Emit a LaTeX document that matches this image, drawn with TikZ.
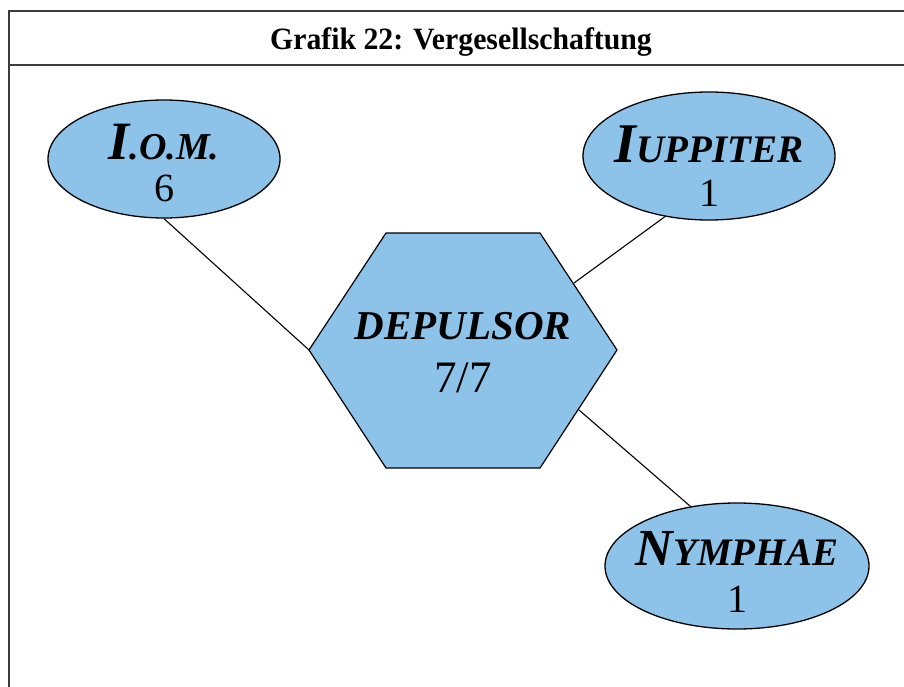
\documentclass[tikz,border=0pt]{standalone}
\usepackage{fontspec}
\setmainfont{Liberation Serif}
\newfontfamily\titlefont[FakeStretch=0.96]{Liberation Serif}
\usetikzlibrary{shapes.geometric}
\definecolor{nodeblue}{RGB}{141,195,233}
\definecolor{framegray}{RGB}{60,60,60}
\newcommand\fsz[1]{\fontsize{#1}{#1}\selectfont}
\tikzset{
  blob/.style={ellipse, draw=black, line width=1.3pt, fill=nodeblue, inner sep=0pt},
  hexfill/.style={draw=black, line width=1.2pt, fill=nodeblue},
  link/.style={draw=black, line width=1.1pt},
  frame/.style={draw=framegray, line width=1.6pt},
  lbl/.style={anchor=base, inner sep=0pt, font=\bfseries\itshape},
  num/.style={anchor=base, inner sep=0pt, font=\fsz{40}},
}
\begin{document}
\begin{tikzpicture}[x=1pt, y=-1pt]
\useasboundingbox (0,0) rectangle (904,687);
% frame
\draw[frame] (904,11) -- (9,11) -- (9,687);
\draw[frame] (9,65) -- (904,65);
\node[anchor=base, inner sep=0pt, font=\titlefont\bfseries\fsz{31}] (title) at (461,50) {Grafik 22: Vergesellschaftung};
% ellipses
\node[blob, minimum width=232pt, minimum height=118pt] (iom) at (164,159) {};
\node[blob, minimum width=252pt, minimum height=128pt] (iup) at (709,156) {};
\node[blob, minimum width=264pt, minimum height=126pt] (nym) at (737,566) {};
% hexagon
\coordinate (h1) at (309,350);
\coordinate (h2) at (386,233);
\coordinate (h3) at (540,233);
\coordinate (h4) at (617,350);
\coordinate (h5) at (540,468);
\coordinate (h6) at (386,468);
\draw[hexfill] (h1) -- (h2) -- (h3) -- (h4) -- (h5) -- (h6) -- cycle;
\coordinate (hur) at (574,283);
\coordinate (hlr) at (579,410);
% labels
\node[lbl] (iomname) at (164,160) {\fsz{54}I\fsz{38}.O.M.};
\node[num] (iomnum) at (164,201) {6};
\node[lbl] (iupname) at (709,163) {\fsz{56}I\fsz{39}UPPITER};
\node[num] (iupnum) at (709,207) {1};
\node[lbl, font=\bfseries\itshape\fsz{41}] (depname) at (463,339) {DEPULSOR};
\node[num, font=\fsz{45}] (depnum) at (463,392) {7/7};
\node[lbl] (nymname) at (737,565) {\fsz{52}N\fsz{39}YMPHAE};
\node[num] (nymnum) at (737,612) {1};
% connectors
\draw[link] (iom.south) -- (h1);
\draw[link] (iup.234) -- (hur);
\draw[link] (hlr) -- (nym.128);
\end{tikzpicture}
\end{document}
